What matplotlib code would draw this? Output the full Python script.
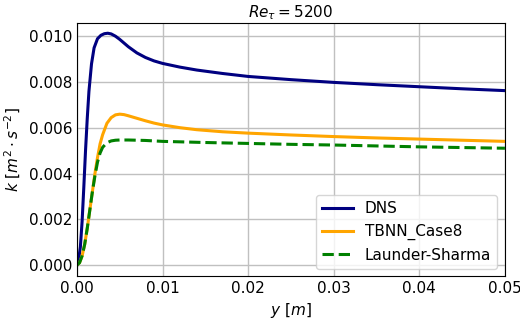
import matplotlib
matplotlib.use("Agg")
import matplotlib.pyplot as plt

# DNS
y_dns = [0, 0.0002, 0.0004, 0.0006, 0.0008, 0.0010, 0.0012, 0.0014, 0.0017, 0.0020,
         0.0024, 0.0028, 0.0032, 0.0036, 0.0040, 0.0045, 0.0050, 0.0060, 0.0070,
         0.0080, 0.0090, 0.0100, 0.0120, 0.0140, 0.0170, 0.0200, 0.0250, 0.0300,
         0.0350, 0.0400, 0.0450, 0.0500]
k_dns = [0, 0.00025, 0.0008, 0.0019, 0.0034, 0.0050, 0.0064, 0.0076, 0.0088, 0.0095,
         0.00990, 0.01005, 0.01012, 0.01014, 0.01011, 0.01001, 0.00987, 0.00955, 0.00928,
         0.00908, 0.00893, 0.00882, 0.00866, 0.00853, 0.00838, 0.00825, 0.00811, 0.00799,
         0.00789, 0.00780, 0.00771, 0.00763]

# TBNN_Case8
y_tbnn = [0, 0.0003, 0.0006, 0.0009, 0.0012, 0.0015, 0.0018, 0.0021, 0.0024, 0.0027,
          0.0030, 0.0035, 0.0040, 0.0045, 0.0050, 0.0055, 0.0060, 0.0070, 0.0080,
          0.0090, 0.0100, 0.0120, 0.0140, 0.0170, 0.0200, 0.0250, 0.0300, 0.0350,
          0.0400, 0.0450, 0.0500]
k_tbnn = [0, 0.0001, 0.0004, 0.0009, 0.0016, 0.0024, 0.0032, 0.0040, 0.0047, 0.0053,
          0.0057, 0.0062, 0.00645, 0.00657, 0.00660, 0.00658, 0.00653, 0.00642, 0.00631,
          0.00621, 0.00613, 0.00601, 0.00592, 0.00583, 0.00577, 0.00569, 0.00562, 0.00556,
          0.00551, 0.00546, 0.00541]

# Launder-Sharma
y_ls = [0, 0.0003, 0.0006, 0.0009, 0.0012, 0.0015, 0.0018, 0.0021, 0.0024, 0.0027,
        0.0030, 0.0035, 0.0040, 0.0045, 0.0050, 0.0060, 0.0070, 0.0080, 0.0100,
        0.0120, 0.0150, 0.0200, 0.0250, 0.0300, 0.0350, 0.0400, 0.0450, 0.0500]
k_ls = [0, 0.0001, 0.0004, 0.0009, 0.0016, 0.0024, 0.0032, 0.0039, 0.0045, 0.0049,
        0.00515, 0.00535, 0.00543, 0.00546, 0.00547, 0.00547, 0.00546, 0.00545, 0.00541,
        0.00539, 0.00536, 0.00532, 0.00528, 0.00525, 0.00521, 0.00517, 0.00514, 0.00511]

xticks = [0.00, 0.01, 0.02, 0.03, 0.04, 0.05]
yticks = [0.000, 0.002, 0.004, 0.006, 0.008, 0.010]

plt.rcParams['font.size'] = 11
fig, ax = plt.subplots(figsize=(5.2, 3.2), dpi=100)
ax.plot(y_dns, k_dns, color='navy', lw=2.2, label='DNS')
ax.plot(y_tbnn, k_tbnn, color='orange', lw=2.2, label='TBNN_Case8')
ax.plot(y_ls, k_ls, color='green', lw=2.2, ls='--', label='Launder-Sharma')
ax.set_xlim(0, 0.05)
ax.set_ylim(-0.0005, 0.0106)
ax.set_xticks(xticks)
ax.set_yticks(yticks)
ax.set_xticklabels([f"{v:.2f}" for v in xticks])
ax.set_yticklabels([f"{v:.3f}" for v in yticks])
ax.tick_params(length=0, pad=3.5)
ax.grid(True, color='#c0c0c0', lw=1)
ax.set_axisbelow(True)
ax.set_xlabel(r'$y\ [m]$', labelpad=3)
ax.set_ylabel(r'$k\ [m^2 \cdot s^{-2}]$', labelpad=4)
ax.set_title(r'$Re_{\tau} = 5200$', fontsize=11, pad=4)
ax.legend(loc='lower right', fontsize=11)
fig.subplots_adjust(left=0.148, right=0.971, top=0.929, bottom=0.136)
fig.savefig('out.png', dpi=100)
